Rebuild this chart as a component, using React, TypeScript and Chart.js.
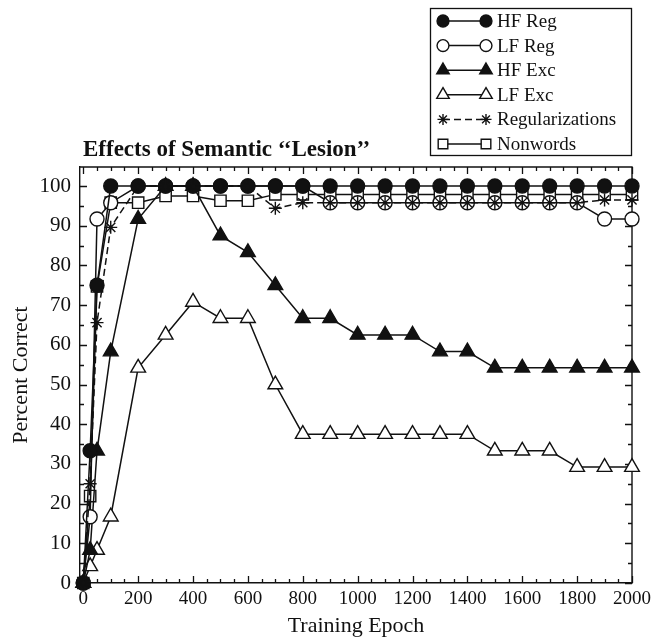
import React, { useEffect, useRef } from 'react';
import { Chart, registerables } from 'chart.js';
import { drawPoint } from 'chart.js/helpers';

Chart.register(...registerables);

// ---------- data ----------
const epochs = [0, 25, 50, 100, 200, 300, 400, 500, 600, 700, 800, 900, 1000, 1100, 1200, 1300, 1400, 1500, 1600, 1700, 1800, 1900, 2000];

const hfReg = [0, 33.3, 75, 100, 100, 100, 100, 100, 100, 100, 100, 100, 100, 100, 100, 100, 100, 100, 100, 100, 100, 100, 100];
const lfReg = [0, 16.7, 91.7, 95.8, 100, 100, 100, 100, 100, 100, 100, 95.8, 95.8, 95.8, 95.8, 95.8, 95.8, 95.8, 95.8, 95.8, 95.8, 91.7, 91.7];
const hfExc = [0, 8.3, 33.3, 58.3, 91.7, 100, 100, 87.5, 83.3, 75, 66.7, 66.7, 62.5, 62.5, 62.5, 58.3, 58.3, 54.2, 54.2, 54.2, 54.2, 54.2, 54.2];
const lfExc = [0, 4.2, 8.3, 16.7, 54.2, 62.5, 70.8, 66.7, 66.7, 50, 37.5, 37.5, 37.5, 37.5, 37.5, 37.5, 37.5, 33.3, 33.3, 33.3, 29.2, 29.2, 29.2];
const regularizations = [0, 25, 65.6, 89.6, 100, 100, 100, 100, 100, 94.4, 95.8, 95.8, 95.8, 95.8, 95.8, 95.8, 95.8, 95.8, 95.8, 95.8, 95.8, 96.5, 96.5];
const nonwords = [0, 21.9, 74.7, 95.8, 95.8, 97.5, 97.5, 96.3, 96.3, 97.9, 97.9, 97.9, 97.9, 97.9, 97.9, 97.9, 97.9, 97.9, 97.9, 97.9, 97.9, 97.9, 97.9];

const seriesLabels = ['HF Reg', 'LF Reg', 'HF Exc', 'LF Exc', 'Regularizations', 'Nonwords'];
const xTickValues = [0, 200, 400, 600, 800, 1000, 1200, 1400, 1600, 1800, 2000];
const yTickValues = [0, 10, 20, 30, 40, 50, 60, 70, 80, 90, 100];
const titleText = 'Effects of Semantic \u2018\u2018Lesion\u2019\u2019';
const xAxisTitle = 'Training Epoch';
const yAxisTitle = 'Percent Correct';

// ---------- styles ----------
const INK = '#111111';
const SERIF = "'Liberation Serif', 'Times New Roman', serif";

const pts = (vals: number[]) => epochs.map((x, i) => ({ x, y: vals[i] }));

const framePlugin = {
  id: 'frameTicks',
  beforeDatasetsDraw(chart: any) {
    const { ctx, chartArea } = chart;
    const xs = chart.scales.x;
    const ys = chart.scales.y;
    const { left, right, top, bottom } = chartArea;
    ctx.save();
    ctx.strokeStyle = INK;
    ctx.lineWidth = 1.4;
    ctx.beginPath();
    ctx.moveTo(left, top);
    ctx.lineTo(right, top);
    ctx.lineTo(right, bottom);
    ctx.stroke();
    ctx.lineWidth = 1.3;
    ctx.beginPath();
    for (let v = 0; v <= 2000; v += 50) {
      const px = Math.round(xs.getPixelForValue(v)) + 0.5;
      const len = v % 200 === 0 ? 7 : 4;
      ctx.moveTo(px, bottom);
      ctx.lineTo(px, bottom - len);
      ctx.moveTo(px, top);
      ctx.lineTo(px, top + len);
    }
    for (let v = 0; v <= 100; v += 5) {
      const py = Math.round(ys.getPixelForValue(v)) + 0.5;
      const len = v % 10 === 0 ? 7 : 4;
      ctx.moveTo(left, py);
      ctx.lineTo(left + len, py);
      ctx.moveTo(right, py);
      ctx.lineTo(right - len, py);
    }
    ctx.stroke();
    ctx.restore();
  },
};

const titleLegendPlugin = {
  id: 'titleLegend',
  afterDraw(chart: any) {
    const { ctx } = chart;
    ctx.save();
    // title
    ctx.fillStyle = INK;
    ctx.font = `bold 23px ${SERIF}`;
    ctx.textAlign = 'left';
    ctx.textBaseline = 'alphabetic';
    ctx.fillText(titleText, 83, 156);

    // legend box (drawn in dataset order, not data-order)
    ctx.strokeStyle = INK;
    ctx.lineWidth = 1.3;
    ctx.strokeRect(430.5, 8.5, 201, 147);
    ctx.font = `19px ${SERIF}`;
    ctx.textBaseline = 'middle';
    chart.data.datasets.forEach((ds: any, i: number) => {
      const y = 21 + i * 24.6;
      ctx.save();
      ctx.strokeStyle = INK;
      ctx.lineWidth = ds.borderWidth;
      ctx.setLineDash(ds.borderDash || []);
      ctx.beginPath();
      ctx.moveTo(443, y);
      ctx.lineTo(486, y);
      ctx.stroke();
      ctx.setLineDash([]);
      const opts = {
        pointStyle: ds.pointStyle,
        radius: ds.pointRadius * 0.85,
        borderWidth: ds.pointBorderWidth,
        rotation: 0,
      };
      ctx.fillStyle = ds.pointBackgroundColor;
      ctx.strokeStyle = INK;
      ctx.lineWidth = ds.pointBorderWidth;
      drawPoint(ctx, opts, 443, y);
      ctx.fillStyle = ds.pointBackgroundColor;
      ctx.strokeStyle = INK;
      drawPoint(ctx, opts, 486, y);
      ctx.restore();
      ctx.fillStyle = INK;
      ctx.fillText(ds.label, 497, y + 1);
    });
    ctx.restore();
  },
};

function makeDataset(label: string, vals: number[], style: string, filled: boolean, radius: number, order: number, dash?: number[]) {
  return {
    label,
    data: pts(vals),
    order,
    borderColor: INK,
    borderWidth: 1.5,
    borderDash: dash || [],
    pointStyle: style,
    pointRadius: radius,
    pointBorderWidth: 1.4,
    pointBorderColor: INK,
    pointBackgroundColor: filled ? INK : '#ffffff',
    pointHoverRadius: radius,
    tension: 0,
    fill: false,
    clip: false as any,
  };
}

export default function App() {
  const canvasRef = useRef<HTMLCanvasElement | null>(null);

  useEffect(() => {
    const canvas = canvasRef.current;
    if (!canvas) return;
    const chart = new Chart(canvas, {
      type: 'line',
      data: {
        datasets: [
          makeDataset(seriesLabels[0], hfReg, 'circle', true, 7, 0),
          makeDataset(seriesLabels[1], lfReg, 'circle', false, 7, 0),
          makeDataset(seriesLabels[2], hfExc, 'triangle', true, 8.5, 0),
          makeDataset(seriesLabels[3], lfExc, 'triangle', false, 8.5, 0),
          makeDataset(seriesLabels[4], regularizations, 'star', false, 6.5, -1, [7, 4]),
          makeDataset(seriesLabels[5], nonwords, 'rect', false, 8, 0),
        ] as any,
      },
      options: {
        animation: false,
        responsive: true,
        maintainAspectRatio: false,
        devicePixelRatio: 1,
        layout: { padding: { left: 0, right: 33, top: 167, bottom: 0 } },
        plugins: {
          legend: { display: false },
          title: { display: false },
          tooltip: { enabled: false },
        },
        scales: {
          x: {
            type: 'linear',
            min: -12,
            max: 2000,
            afterBuildTicks: (scale: any) => {
              scale.ticks = xTickValues.map((v) => ({ value: v }));
            },
            afterFit: (scale: any) => {
              scale.height = 56;
            },
            grid: { display: false, drawTicks: false },
            border: { display: true, color: INK, width: 1.4 },
            ticks: {
              color: INK,
              padding: 5,
              maxRotation: 0,
              autoSkip: false,
              font: { family: SERIF, size: 19 },
              callback: (v: any) => String(v),
            },
            title: {
              display: true,
              text: xAxisTitle,
              color: INK,
              font: { family: SERIF, size: 22 },
              padding: { top: 0, bottom: 0 },
            },
          },
          y: {
            type: 'linear',
            min: 0,
            max: 104.8,
            afterBuildTicks: (scale: any) => {
              scale.ticks = yTickValues.map((v) => ({ value: v }));
            },
            afterFit: (scale: any) => {
              scale.width = 80;
            },
            grid: { display: false, drawTicks: false },
            border: { display: true, color: INK, width: 1.4 },
            ticks: {
              color: INK,
              padding: 9,
              autoSkip: false,
              font: { family: SERIF, size: 21 },
              callback: (v: any) => String(v),
            },
            title: {
              display: true,
              text: yAxisTitle,
              color: INK,
              font: { family: SERIF, size: 22 },
              padding: { top: 8, bottom: 0 },
            },
          },
        },
      } as any,
      plugins: [framePlugin, titleLegendPlugin],
    });
    return () => chart.destroy();
  }, []);

  return (
    <div style={{ position: 'absolute', left: 0, top: 0, width: 665, height: 639, background: '#ffffff' }}>
      <canvas ref={canvasRef} />
    </div>
  );
}
